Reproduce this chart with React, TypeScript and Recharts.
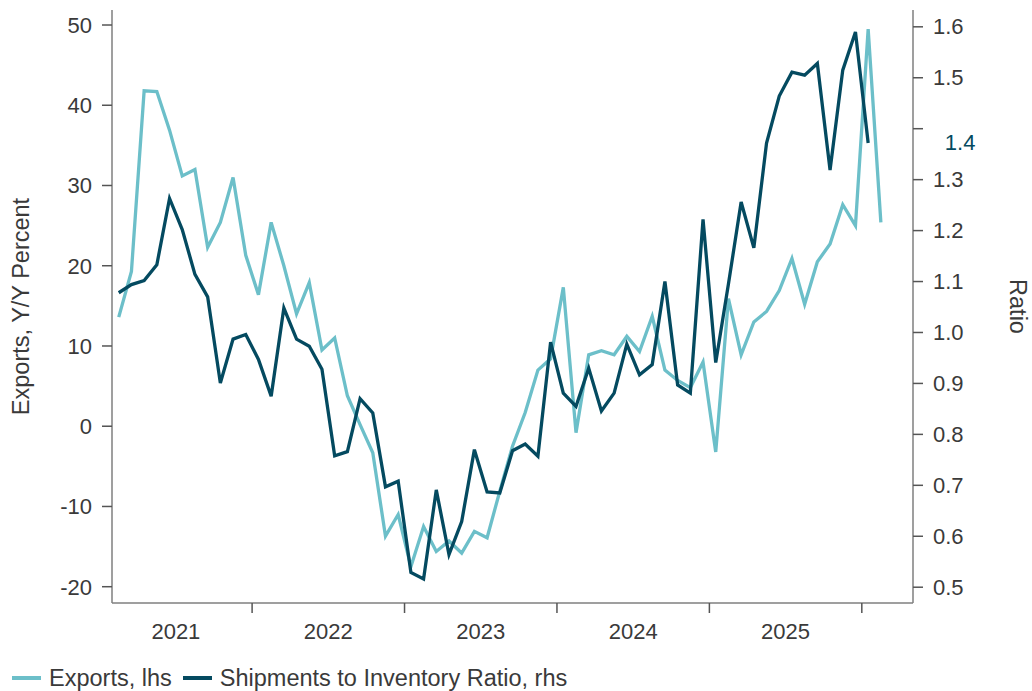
import React from 'react';
import { LineChart, Line, XAxis, YAxis, Legend, LabelList } from 'recharts';

// Monthly observations, Feb 2021 .. Feb 2026
const months: string[] = [
  '2021-02', '2021-03', '2021-04', '2021-05', '2021-06', '2021-07', '2021-08', '2021-09', '2021-10', '2021-11', '2021-12',
  '2022-01', '2022-02', '2022-03', '2022-04', '2022-05', '2022-06', '2022-07', '2022-08', '2022-09', '2022-10', '2022-11', '2022-12',
  '2023-01', '2023-02', '2023-03', '2023-04', '2023-05', '2023-06', '2023-07', '2023-08', '2023-09', '2023-10', '2023-11', '2023-12',
  '2024-01', '2024-02', '2024-03', '2024-04', '2024-05', '2024-06', '2024-07', '2024-08', '2024-09', '2024-10', '2024-11', '2024-12',
  '2025-01', '2025-02', '2025-03', '2025-04', '2025-05', '2025-06', '2025-07', '2025-08', '2025-09', '2025-10', '2025-11', '2025-12',
  '2026-01', '2026-02',
];

// Exports, Y/Y percent (lhs)
const exportsYoY: number[] = [
  13.6, 19.3, 41.8, 41.7, 36.9, 31.2, 32.0, 22.3, 25.4, 31.0, 21.3,
  16.4, 25.4, 20.0, 14.0, 17.9, 9.5, 11.0, 3.8, 0.2, -3.3, -13.7, -11.0,
  -17.5, -12.5, -15.6, -14.3, -15.8, -13.1, -13.9, -8.1, -2.5, 1.7, 7.0, 8.4,
  17.3, -0.8, 8.9, 9.4, 8.9, 11.2, 9.3, 13.7, 7.0, 5.7, 4.8, 8.0,
  -3.2, 15.9, 8.9, 13.0, 14.3, 16.9, 20.9, 15.2, 20.5, 22.7, 27.6, 25.0,
  49.5, 25.4,
];

// Shipments to inventory ratio (rhs)
const shipToInv: (number | null)[] = [
  1.078, 1.094, 1.102, 1.133, 1.263, 1.202, 1.114, 1.070, 0.901, 0.987, 0.996,
  0.947, 0.875, 1.048, 0.987, 0.973, 0.928, 0.758, 0.766, 0.870, 0.842, 0.697, 0.708,
  0.529, 0.516, 0.691, 0.564, 0.629, 0.770, 0.687, 0.685, 0.768, 0.781, 0.757, 0.981,
  0.881, 0.855, 0.930, 0.846, 0.881, 0.977, 0.917, 0.937, 1.100, 0.897, 0.881, 1.222,
  0.941, 1.095, 1.256, 1.166, 1.372, 1.464, 1.511, 1.505, 1.528, 1.319, 1.515, 1.590,
  1.372, null,
];

const leftTicks = [-20, -10, 0, 10, 20, 30, 40, 50];
const rightTicks = [0.5, 0.6, 0.7, 0.8, 0.9, 1.0, 1.1, 1.2, 1.3, 1.4, 1.5, 1.6];
const yearLabels = ['2021', '2022', '2023', '2024', '2025'];
const baseYear = 2021;

const LIGHT = '#6cbfc9';
const DARK = '#044a60';
const AXIS = '#7f7f7f';
const TEXT = '#3a3a3a';
const FONT = '"Liberation Sans", Arial, sans-serif';

const monthToX = (m: string) => {
  const [y, mo] = m.split('-').map(Number);
  return (y - baseYear) * 12 + (mo - 1) + 0.5;
};

const data = months.map((m, i) => ({
  x: monthToX(m),
  exports: exportsYoY[i],
  ratio: shipToInv[i],
}));

const yearBoundaries = yearLabels.map((_, i) => (i + 1) * 12);
const yearCenters = yearLabels.map((_, i) => i * 12 + 6);
const xDomain: [number, number] = [0.97, 64.03];

const lastRatioIndex = shipToInv.reduce((acc: number, v, i) => (v != null ? i : acc), -1);
const lastRatio = shipToInv[lastRatioIndex] as number;
const lastRatioLabel = lastRatio.toFixed(1);

const LastLabel = (props: any) => {
  const { x, y, index, value } = props;
  if (index !== lastRatioIndex || value == null) return null;
  const lx = x + 92;
  return (
    <text x={lx} y={y} textAnchor="middle" dominantBaseline="central" fill={DARK} fontSize={22} fontFamily={FONT}>
      {Number(value).toFixed(1)}
    </text>
  );
};

// Right axis tick: the tick label that coincides with the last-value label is covered by it
const RightTick = (props: any) => {
  const { x, y, payload } = props;
  const v = Number(payload?.value);
  if (v.toFixed(1) === lastRatioLabel) return <g />;
  return (
    <text x={x} y={y} textAnchor="start" dominantBaseline="central" fontSize={22} fill={TEXT} fontFamily={FONT}>
      {v.toFixed(1)}
    </text>
  );
};

// Year-boundary tick marks hanging below the axis line
const YearTick = (props: any) => {
  const { x, y } = props;
  return <line x1={x} y1={y - 10} x2={x} y2={y} stroke="#555" strokeWidth={1.5} />;
};

const LegendContent = () => (
  <div style={{ display: 'flex', alignItems: 'center', height: 26, fontFamily: FONT, fontSize: 23.5, color: TEXT, whiteSpace: 'nowrap' }}>
    <span style={{ display: 'inline-block', width: 29, height: 4, background: LIGHT, marginLeft: 12, marginRight: 8 }} />
    <span>Exports, lhs</span>
    <span style={{ display: 'inline-block', width: 29, height: 4, background: DARK, marginLeft: 11, marginRight: 8 }} />
    <span>Shipments to Inventory Ratio, rhs</span>
  </div>
);

export default function App() {
  const tickStyle = { fontSize: 22, fill: TEXT, fontFamily: FONT };
  return (
    <div style={{ position: 'absolute', left: 0, top: 0, width: 1032, height: 691, background: '#fff' }}>
      <LineChart width={1032} height={691} data={data} margin={{ top: 10, right: 0, bottom: 0, left: 0 }}>
        <XAxis
          xAxisId="a"
          dataKey="x"
          type="number"
          domain={xDomain}
          allowDataOverflow
          ticks={yearBoundaries}
          interval={0}
          tick={<YearTick />}
          tickLine={false}
          tickSize={10}
          tickMargin={0}
          height={1}
          axisLine={{ stroke: AXIS, strokeWidth: 1.5 }}
        />
        <XAxis
          xAxisId="b"
          dataKey="x"
          type="number"
          domain={xDomain}
          allowDataOverflow
          ticks={yearCenters}
          interval={0}
          tickFormatter={(v: number) => String(baseYear + Math.floor(v / 12))}
          tickLine={false}
          axisLine={false}
          tickSize={9}
          tickMargin={10}
          height={87}
          tick={tickStyle}
        />
        <YAxis
          yAxisId="left"
          orientation="left"
          width={112}
          domain={[-22.03, 51.87]}
          allowDataOverflow
          ticks={leftTicks}
          tickSize={10}
          tickMargin={10}
          tick={tickStyle}
          axisLine={{ stroke: AXIS, strokeWidth: 1.5 }}
          tickLine={{ stroke: '#555', strokeWidth: 1.5 }}
          label={(p: any) => {
            const vb = p.viewBox || {};
            const cx = vb.x + 21;
            const cy = vb.y + vb.height / 2;
            return (
              <text x={cx} y={cy} transform={`rotate(-90 ${cx} ${cy})`} textAnchor="middle" dominantBaseline="central" fontSize={23.5} fill={TEXT} fontFamily={FONT}>
                Exports, Y/Y Percent
              </text>
            );
          }}
        />
        <YAxis
          yAxisId="right"
          orientation="right"
          width={119}
          domain={[0.469, 1.633]}
          allowDataOverflow
          ticks={rightTicks}
          tickSize={10}
          tickMargin={10}
          tick={<RightTick />}
          axisLine={{ stroke: AXIS, strokeWidth: 1.5 }}
          tickLine={{ stroke: '#555', strokeWidth: 1.5 }}
          label={(p: any) => {
            const vb = p.viewBox || {};
            const cx = vb.x + 105;
            const cy = vb.y + vb.height / 2;
            return (
              <text x={cx} y={cy} transform={`rotate(90 ${cx} ${cy})`} textAnchor="middle" dominantBaseline="central" fontSize={23.5} fill={TEXT} fontFamily={FONT}>
                Ratio
              </text>
            );
          }}
        />
        <Legend
          layout="horizontal"
          verticalAlign="middle"
          align="center"
          wrapperStyle={{ left: 0, top: 665, width: 700 }}
          content={() => <LegendContent />}
        />
        <Line
          xAxisId="a"
          yAxisId="left"
          type="linear"
          dataKey="exports"
          stroke={LIGHT}
          strokeWidth={3.3}
          dot={false}
          activeDot={false}
          isAnimationActive={false}
        />
        <Line
          xAxisId="a"
          yAxisId="right"
          type="linear"
          dataKey="ratio"
          stroke={DARK}
          strokeWidth={3.3}
          dot={false}
          activeDot={false}
          connectNulls={false}
          isAnimationActive={false}
        >
          <LabelList dataKey="ratio" content={LastLabel} />
        </Line>
      </LineChart>
    </div>
  );
}
